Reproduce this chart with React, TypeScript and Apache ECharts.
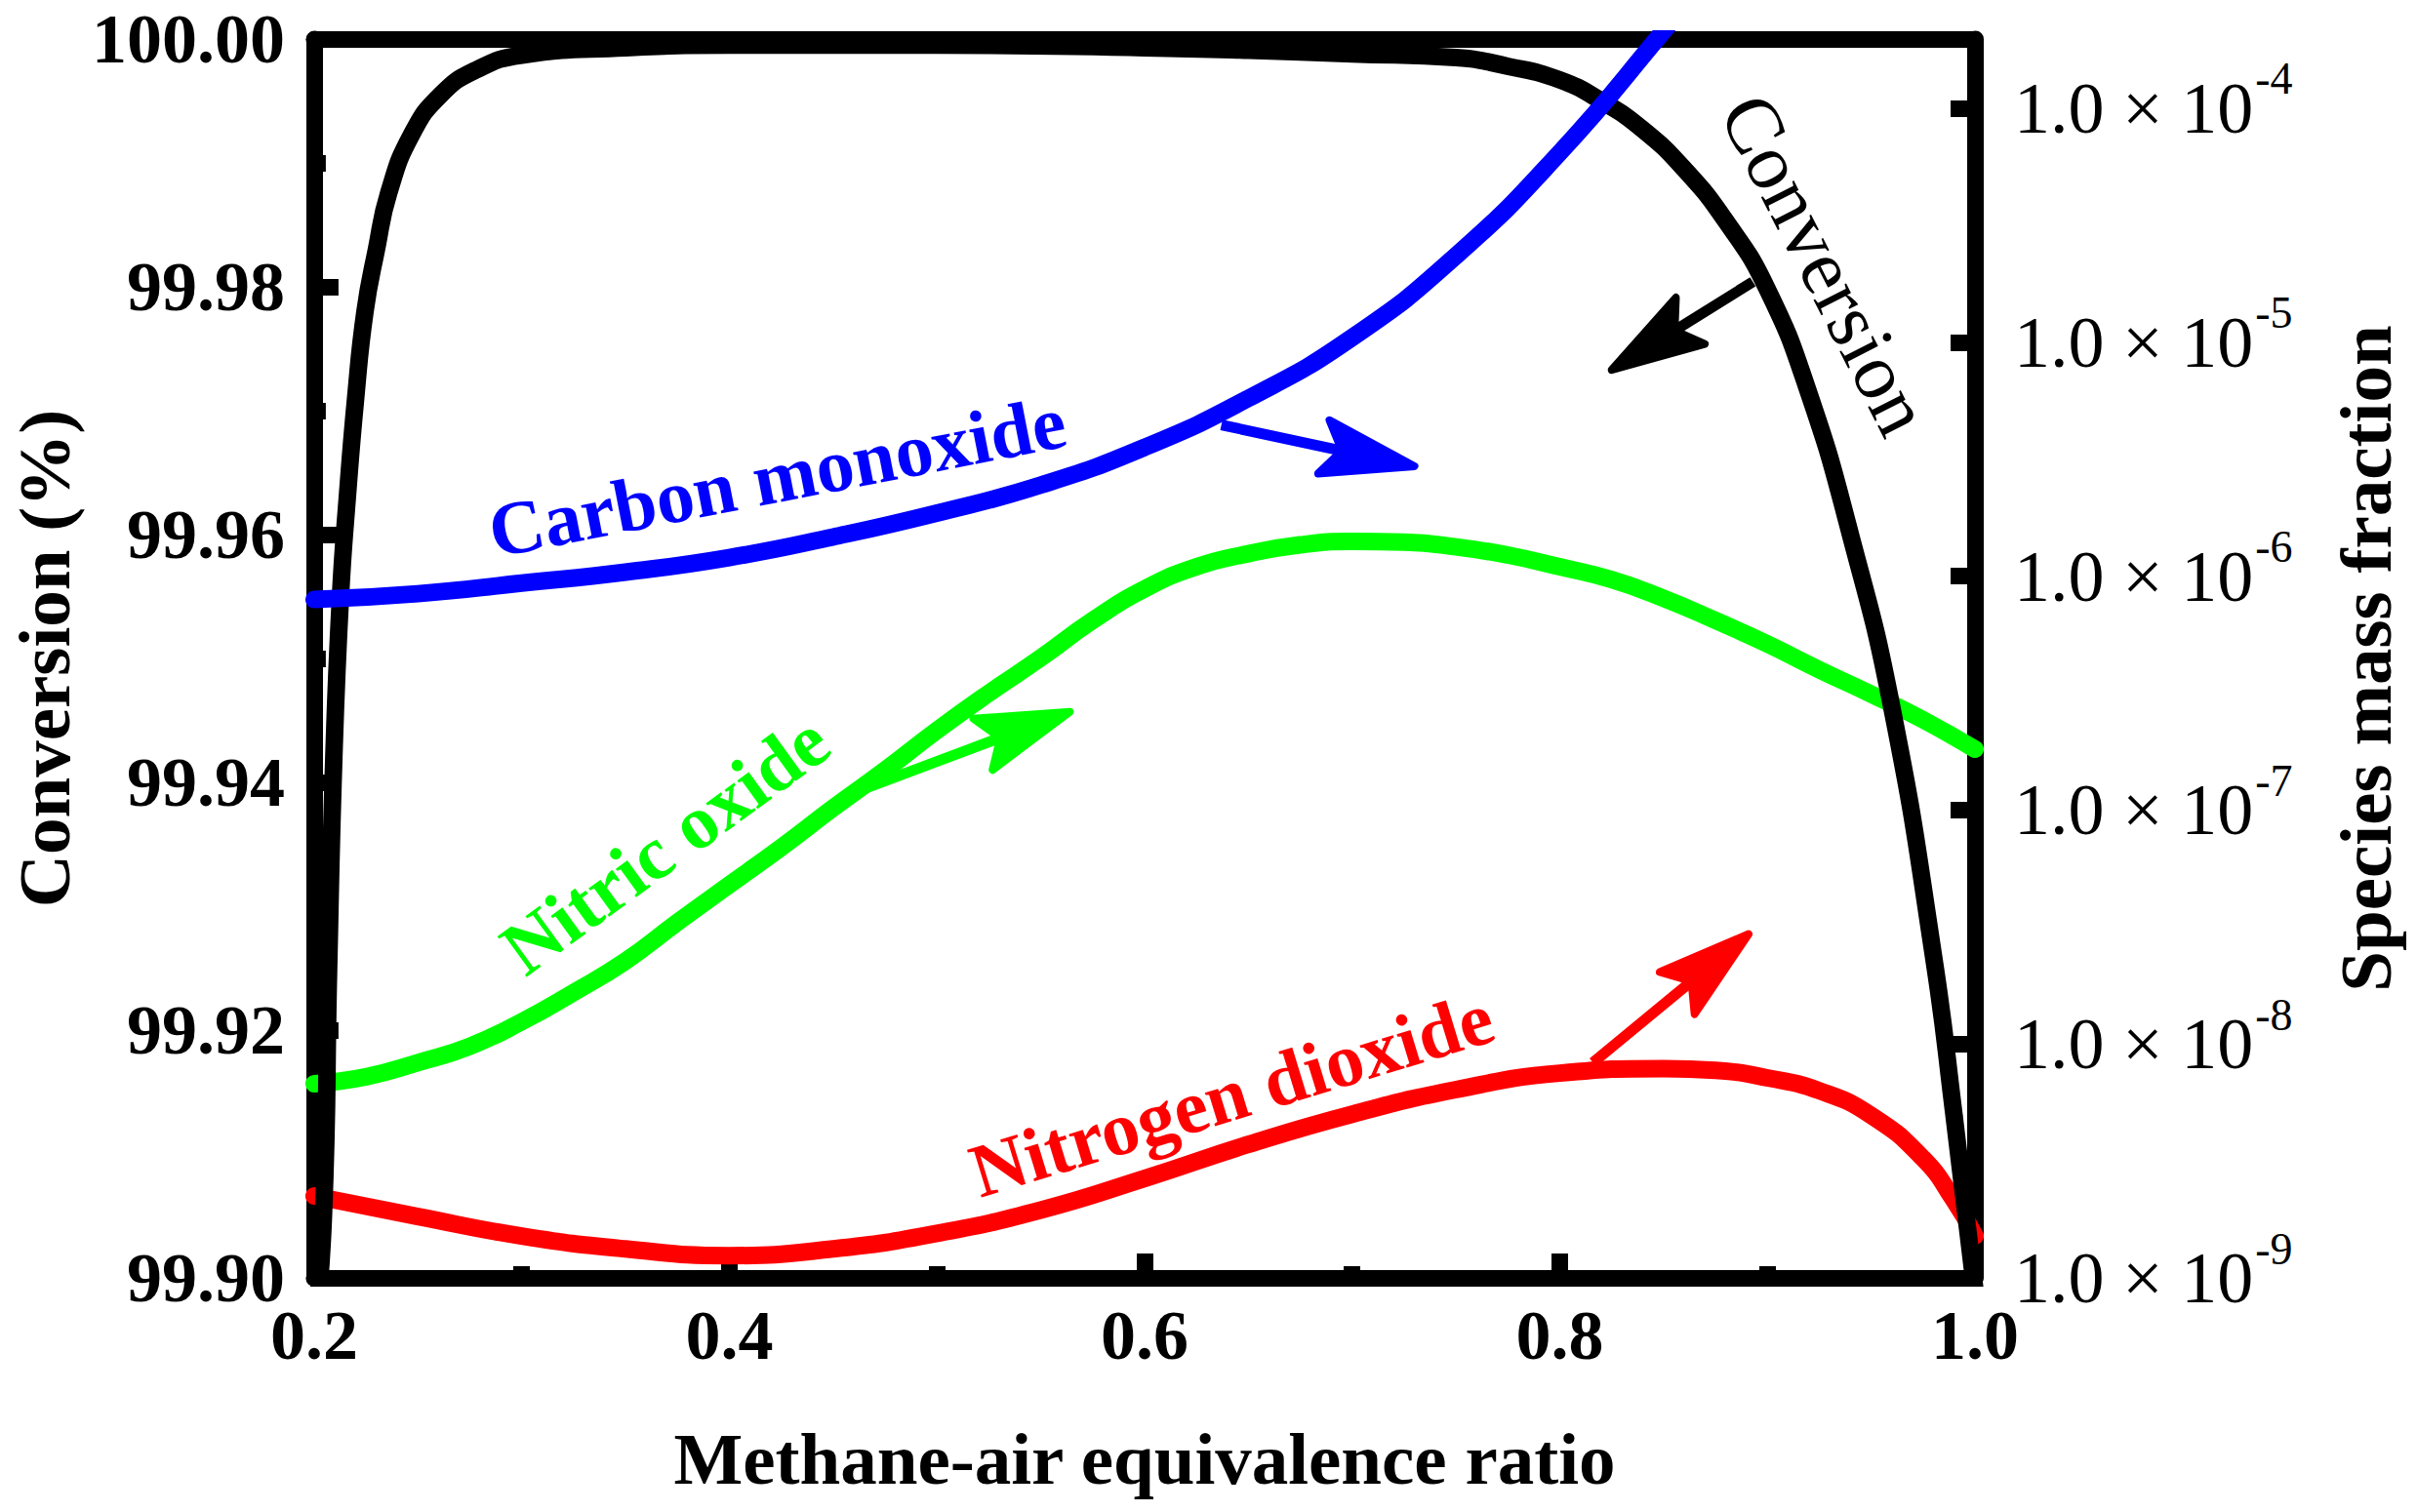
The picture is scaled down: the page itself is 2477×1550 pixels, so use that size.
import React, { useEffect, useRef } from "react";
import * as echarts from "echarts";

const FONT = '"Liberation Serif", "Times New Roman", Times, serif';

// Methane-air equivalence ratio vs conversion (%) — left axis
const conversionX = [0.2, 0.2045, 0.207, 0.2095, 0.2127, 0.216, 0.22, 0.2245, 0.23, 0.236, 0.247, 0.261, 0.278, 0.3, 0.35, 0.4, 0.5, 0.6, 0.65, 0.7, 0.75, 0.775, 0.8, 0.82, 0.84, 0.86, 0.88, 0.9, 0.92, 0.94, 0.96, 0.98, 0.99, 1.0];
const conversionY = [99.895, 99.905, 99.925, 99.942, 99.955, 99.963, 99.971, 99.978, 99.983, 99.9876, 99.9923, 99.9955, 99.9975, 99.9987, 99.9993, 99.9995, 99.9995, 99.9993, 99.9991, 99.9988, 99.9985, 99.9978, 99.9967, 99.995, 99.9927, 99.9895, 99.9853, 99.9798, 99.9714, 99.96, 99.946, 99.926, 99.913, 99.899];

// Species mass fractions — right (log) axis
const coX = [0.2, 0.25, 0.3, 0.35, 0.4, 0.45, 0.5, 0.55, 0.6, 0.65, 0.7, 0.75, 0.8, 0.85, 0.87];
const coY = [7.94e-7, 8.41e-7, 9.33e-7, 1.04e-6, 1.2e-6, 1.47e-6, 1.86e-6, 2.45e-6, 3.55e-6, 5.75e-6, 1.047e-5, 2.34e-5, 6.46e-5, 2.14e-4, 3.55e-4];

const noX = [0.2, 0.225, 0.25, 0.275, 0.3, 0.325, 0.35, 0.375, 0.4, 0.425, 0.45, 0.475, 0.5, 0.525, 0.55, 0.575, 0.6, 0.625, 0.65, 0.675, 0.7, 0.725, 0.75, 0.775, 0.8, 0.825, 0.85, 0.875, 0.9, 0.925, 0.95, 0.975, 1.0];
const noY = [6.76e-9, 7.24e-9, 8.32e-9, 9.77e-9, 1.245e-8, 1.66e-8, 2.26e-8, 3.31e-8, 4.79e-8, 6.92e-8, 1.02e-7, 1.48e-7, 2.19e-7, 3.16e-7, 4.47e-7, 6.46e-7, 8.81e-7, 1.096e-6, 1.247e-6, 1.361e-6, 1.406e-6, 1.396e-6, 1.334e-6, 1.23e-6, 1.096e-6, 9.66e-7, 8.04e-7, 6.46e-7, 5.13e-7, 3.98e-7, 3.13e-7, 2.43e-7, 1.82e-7];

const no2X = [0.2, 0.25, 0.3, 0.35, 0.4, 0.45, 0.5, 0.55, 0.6, 0.65, 0.7, 0.75, 0.8, 0.85, 0.875, 0.9, 0.925, 0.95, 0.975, 0.99, 1.0];
const no2Y = [2.24e-9, 1.83e-9, 1.51e-9, 1.33e-9, 1.245e-9, 1.33e-9, 1.55e-9, 1.95e-9, 2.66e-9, 3.72e-9, 5.01e-9, 6.38e-9, 7.5e-9, 7.85e-9, 7.71e-9, 7.16e-9, 6.31e-9, 4.95e-9, 3.24e-9, 2.14e-9, 1.51e-9];

// Annotations (data coordinates)
const labelTexts = ["Carbon monoxide", "Nitric oxide", "Nitrogen dioxide", "Conversion"];
const labelColors = ["#0000ff", "#00ff00", "#ff0000", "#000000"];
const labelWeights = ["bold", "bold", "bold", "normal"];
const labelSizes = [78, 78, 78, 82];
const labelPos: [number, number][] = [[0.423, 99.9647], [0.369, 99.935], [0.642, 99.9148], [0.928, 99.9818]];
const labelAngles = [11, 36, 17, -63];

// arrows: axis index, base, tip, colour
const arrowAxis = [1, 1, 1, 0];
const arrowBase: [number, number][] = [[0.637, 4.43e-6], [0.458, 1.17e-7], [0.816, 8.32e-9], [0.893, 99.9804]];
const arrowTip: [number, number][] = [[0.73, 2.95e-6], [0.564, 2.63e-7], [0.891, 2.95e-8], [0.825, 99.9733]];
const arrowColors = ["#0000ff", "#00ff00", "#ff0000", "#000000"];

const AXIS_W = 17;
const CURVE_W = 18;

function zip(xs: number[], ys: number[]) {
  return xs.map((x, i) => [x, ys[i]]);
}

function makeArrow(b: number[], t: number[], color: string) {
  const dx = t[0] - b[0];
  const dy = t[1] - b[1];
  const len = Math.hypot(dx, dy);
  const ux = dx / len;
  const uy = dy / len;
  const nx = -uy;
  const ny = ux;
  const L = 95;
  const W = 28;
  const back = [t[0] - ux * L, t[1] - uy * L];
  const notch = [t[0] - ux * L * 0.8, t[1] - uy * L * 0.8];
  return [
    {
      type: "line",
      z: 50,
      shape: { x1: b[0], y1: b[1], x2: notch[0], y2: notch[1] },
      style: { stroke: color, lineWidth: 11, lineCap: "butt" },
    },
    {
      type: "polygon",
      z: 51,
      shape: {
        points: [
          [t[0], t[1]],
          [back[0] + nx * W, back[1] + ny * W],
          [notch[0], notch[1]],
          [back[0] - nx * W, back[1] - ny * W],
        ],
      },
      style: { fill: color, stroke: color, lineWidth: 8, lineJoin: "round" },
    },
  ];
}

export default function App() {
  const ref = useRef<HTMLDivElement>(null);

  useEffect(() => {
    if (!ref.current) return;
    const chart = echarts.init(ref.current, null, { renderer: "svg" });

    const axisLine = { show: true, onZero: false, lineStyle: { color: "#000", width: AXIS_W } };
    const tick = { show: true, inside: true, length: 25, lineStyle: { color: "#000", width: AXIS_W } };
    const minor = { show: true, splitNumber: 2, length: 12, lineStyle: { color: "#000", width: AXIS_W } };
    const boldLabel = { color: "#000", fontFamily: FONT, fontWeight: "bold", fontSize: 72 };
    const nameStyle = { color: "#000", fontFamily: FONT, fontWeight: "bold", fontSize: 75 };

    const lineSeries = (name: string, data: number[][], color: string, yAxisIndex: number) => ({
      type: "line",
      name,
      data,
      yAxisIndex,
      xAxisIndex: 0,
      showSymbol: false,
      symbol: "none",
      smooth: 0.5,
      clip: true,
      lineStyle: { color, width: CURVE_W, cap: "round", join: "round" },
      z: 5,
    });

    const option: any = {
      animation: false,
      backgroundColor: "#ffffff",
      grid: { left: 320, top: 40, width: 1704, height: 1270, containLabel: false },
      xAxis: [
        {
          type: "value",
          position: "bottom",
          min: 0.2,
          max: 1.0,
          interval: 0.2,
          axisLine,
          axisTick: tick,
          minorTick: minor,
          splitLine: { show: false },
          minorSplitLine: { show: false },
          axisLabel: { ...boldLabel, margin: 23, formatter: (v: number) => v.toFixed(1) },
          name: "Methane-air equivalence ratio",
          nameLocation: "middle",
          nameGap: 148,
          nameTextStyle: nameStyle,
        },
        {
          type: "value",
          position: "top",
          min: 0.2,
          max: 1.0,
          axisLine,
          axisTick: { show: false },
          axisLabel: { show: false },
          splitLine: { show: false },
        },
      ],
      yAxis: [
        {
          type: "value",
          position: "left",
          min: 99.9,
          max: 100,
          interval: 0.02,
          axisLine,
          axisTick: tick,
          minorTick: minor,
          splitLine: { show: false },
          minorSplitLine: { show: false },
          axisLabel: { ...boldLabel, margin: 30, formatter: (v: number) => v.toFixed(2) },
          name: "Conversion (%)",
          nameLocation: "middle",
          nameRotate: 90,
          nameGap: 238,
          nameTextStyle: nameStyle,
        },
        {
          type: "log",
          logBase: 10,
          position: "right",
          min: 1e-9,
          max: Math.pow(10, -3.704),
          axisLine,
          axisTick: tick,
          minorTick: { show: false },
          splitLine: { show: false },
          axisLabel: {
            margin: 40,
            color: "#000",
            fontFamily: FONT,
            formatter: (v: number) => {
              const e = Math.log10(v);
              const r = Math.round(e);
              if (Math.abs(e - r) > 1e-6) return "";
              return "{m|1.0 \u00d7 10}{s|" + r + "}";
            },
            rich: {
              m: { fontFamily: FONT, fontSize: 74, color: "#000" },
              s: { fontFamily: FONT, fontSize: 46, color: "#000", padding: [0, 0, 60, 2] },
            },
          },
          name: "Species mass fraction",
          nameLocation: "middle",
          nameRotate: 90,
          nameGap: 363,
          nameTextStyle: nameStyle,
        },
      ],
      series: [
        lineSeries("Nitrogen dioxide", zip(no2X, no2Y), "#ff0000", 1),
        lineSeries("Nitric oxide", zip(noX, noY), "#00ff00", 1),
        lineSeries("Conversion", zip(conversionX, conversionY), "#000000", 0),
        lineSeries("Carbon monoxide", zip(coX, coY), "#0000ff", 1),
      ],
    };

    chart.setOption(option);

    const toPx = (yAxisIndex: number, p: [number, number]) =>
      chart.convertToPixel({ xAxisIndex: 0, yAxisIndex } as any, p) as unknown as number[];

    const graphics: any[] = [];
    labelTexts.forEach((text, i) => {
      const p = toPx(0, labelPos[i]);
      graphics.push({
        type: "text",
        x: p[0],
        y: p[1],
        rotation: (labelAngles[i] * Math.PI) / 180,
        z: 60,
        style: {
          text,
          fill: labelColors[i],
          fontFamily: FONT,
          fontWeight: labelWeights[i],
          fontSize: labelSizes[i],
          align: "center",
          verticalAlign: "middle",
        },
      });
    });
    arrowBase.forEach((b, i) => {
      const pb = toPx(arrowAxis[i], b);
      const pt = toPx(arrowAxis[i], arrowTip[i]);
      graphics.push(...makeArrow(pb, pt, arrowColors[i]));
    });

    chart.setOption({ graphic: graphics });

    return () => {
      chart.dispose();
    };
  }, []);

  return (
    <div
      ref={ref}
      style={{ position: "fixed", left: 0, top: 0, width: 2477, height: 1550, background: "#fff" }}
    />
  );
}
